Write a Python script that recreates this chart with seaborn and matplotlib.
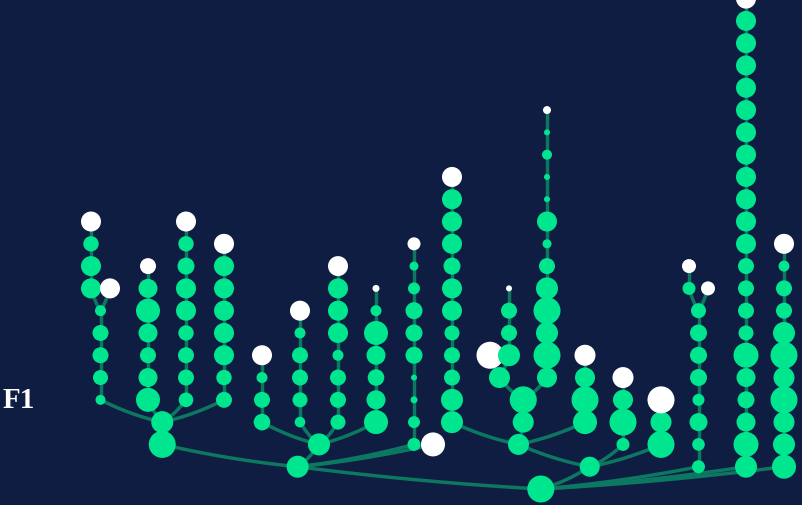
import numpy as np
import pandas as pd
import matplotlib
matplotlib.use("Agg")
import matplotlib.pyplot as plt
from matplotlib.collections import LineCollection
import seaborn as sns

# Lineage segments: each segment is a run of single-child generations;
# its child segments sprout from its last node, one generation later.
segment = ["root", "A", "A1", "c100", "c91", "c110", "c148", "c186", "c224",
           "A2", "c262", "c300", "c338", "c376", "c414", "t433",
           "B", "B1", "c452", "B2", "B3", "t490", "c509", "c547", "c585",
           "c623", "c661", "c698", "c689", "c708", "c746", "c784"]
parent = [None, "root", "A", "A1", "c100", "c100", "A1", "A1", "A1",
          "A", "A2", "A2", "A2", "A2", "A", "A",
          "root", "B", "B1", "B1", "B2", "B3", "B3", "B2", "B1",
          "B", "B", "root", "c698", "c698", "root", "root"]

# horizontal slot of every tip lineage; inner lineages sit midway
# between their outermost children
tip_names = ["c91", "c110", "c148", "c186", "c224", "c262", "c300", "c338",
             "c376", "c414", "t433", "c452", "t490", "c509", "c547", "c585",
             "c623", "c661", "c689", "c708", "c746", "c784"]
tip_slots = [91, 110, 148, 186, 224, 262, 300, 338,
             376, 414, 433, 452, 490, 509, 547, 585,
             623, 661, 689, 708, 746, 784]

# node weights along each segment, oldest generation first
weights = [
    [13.5],
    [11],
    [13.5, 11],
    [5, 7.5, 8, 8, 5.5],
    [10, 10, 7.7, 10],
    [10],
    [12, 9.5, 8, 9.5, 12, 9.5, 8],
    [7.3, 8, 8, 7.7, 10, 10, 8.5, 7.7, 10],
    [8, 7.7, 10, 10, 10, 10, 10, 10],
    [11],
    [8.3, 8, 5.5, 10],
    [5.3, 7.5, 8, 8, 5.5, 10],
    [7.5, 8, 8, 5.5, 10, 10, 10, 10],
    [12, 9.5, 8.3, 9.5, 12, 5.5, 3.5],
    [6.5, 6, 3.5, 3, 8.5, 8.5, 8.5, 6, 4.5, 6.5],
    [12],
    [10],
    [10.5],
    [11, 11, 8, 8, 7.5, 10, 10, 8.5, 10, 10, 10, 10],
    [10.5, 13.5],
    [10.5],
    [13.5],
    [11, 8, 8, 3],
    [10, 13.5, 11, 13.5, 11, 8, 4.5, 10, 3, 3, 5, 3, 4],
    [12, 13.5, 10, 10.5],
    [6.5, 13.5, 10, 10.5],
    [13.5, 10.5, 13.5],
    [6.5, 6.3, 9, 6, 8.5, 8.5, 8.5, 7.5],
    [6.5, 7],
    [7],
    [11, 12.5, 9.5, 8.5, 9.5, 12.5, 7.5, 8, 8, 8,
     10, 10, 10, 10, 10, 10, 10, 10, 10, 10, 10, 10],
    [12, 11, 10.5, 13.5, 10.5, 13.5, 11, 8, 8, 5.5, 10],
]

label = "F1"

BG = "#0e1d41"
GREEN = "#00e68f"
TIP = "#ffffff"
LINK = "#0d7862"

# ---- layout -------------------------------------------------------------
par = dict(zip(segment, parent))
w = dict(zip(segment, weights))
children = {s: [c for c in segment if par[c] == s] for s in segment}
slot = dict(zip(tip_names, tip_slots))

xpos = {}
def place(s):
    if s in slot:
        xpos[s] = slot[s]
    else:
        kids = children[s]
        for k in kids:
            place(k)
        xpos[s] = (xpos[kids[0]] + xpos[kids[-1]]) / 2
    return xpos[s]
place("root")

start = {}
for s in segment:
    start[s] = 0 if par[s] is None else start[par[s]] + len(w[par[s]])

rows = []
for s in segment:
    n = len(w[s])
    for i, r in enumerate(w[s]):
        is_tip = (not children[s]) and i == n - 1
        rows.append(dict(seg=s, x=xpos[s], gen=start[s] + i, r=r,
                         kind="tip" if is_tip else "inner"))
nodes = pd.DataFrame(rows)
nodes["area"] = (2 * nodes["r"] * 0.72) ** 2

links = []
for s in segment:
    g0 = start[s]
    n = len(w[s])
    for i in range(n - 1):
        links.append([(xpos[s], g0 + i), (xpos[s], g0 + i + 1)])
    p = par[s]
    if p is not None:
        xp, gp = xpos[p], start[p] + len(w[p]) - 1
        xc, gc = xpos[s], g0
        cx, cg = xc + 0.5 * (xp - xc), gc - 0.7 * (gc - gp)
        t = np.linspace(0, 1, 40)[:, None]
        p0, c1, p2 = np.array([xc, gc]), np.array([cx, cg]), np.array([xp, gp])
        pts = (1 - t) ** 2 * p0 + 2 * t * (1 - t) * c1 + t ** 2 * p2
        links.append(pts)

# ---- drawing ------------------------------------------------------------
fig = plt.figure(figsize=(8.02, 5.06), dpi=100, facecolor=BG)
ax = fig.add_axes([0, 0, 1, 1])
ax.set_facecolor(BG)

ax.add_collection(LineCollection(links, colors=LINK, linewidths=2.5,
                                 capstyle="round", zorder=1))

amin, amax = nodes["area"].min(), nodes["area"].max()
sns.scatterplot(data=nodes, x="x", y="gen", hue="kind",
                palette={"inner": GREEN, "tip": TIP},
                size="area", sizes=(amin, amax), size_norm=(amin, amax),
                linewidth=0, legend=False, ax=ax, zorder=3)

step = 22.29
ax.set_xlim(0, 802)
ax.set_ylim((490 - 506) / step, 490 / step)
ax.set_axis_off()

fig.text(3 / 802, 1 - 401 / 506, label, color="white", fontsize=21,
         fontweight="bold", family=["Liberation Serif", "DejaVu Serif"],
         ha="left", va="center")

fig.savefig("out.png", dpi=100, facecolor=BG)
